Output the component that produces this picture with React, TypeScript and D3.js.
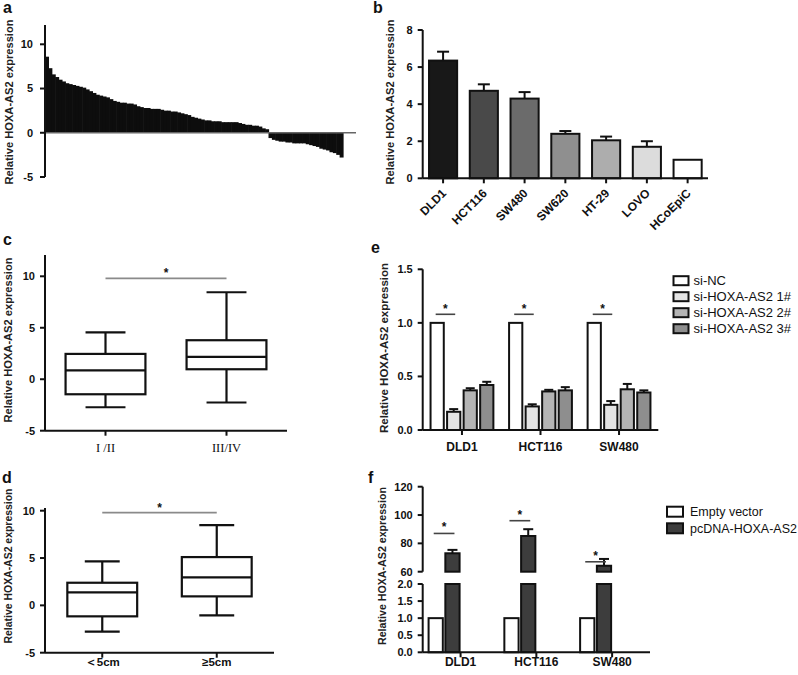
import React from 'react'
import { scaleBand, scaleLinear } from 'd3'

const FONT = '"Liberation Sans", Arial, Helvetica, sans-serif'
const SERIF = '"Liberation Serif", "Times New Roman", serif'
const INK = '#111'
const TITLE = 'Relative HOXA-AS2 expression'

// a: expression in each tumour, sorted
const waterfallValues = [
  8.6, 7.3, 6.6, 6.3, 6.0, 5.8, 5.6, 5.5, 5.4, 5.3, 5.2, 5.1, 4.9, 4.7, 4.5, 4.3,
  4.2, 4.1, 4.0, 3.8, 3.6, 3.5, 3.4, 3.4, 3.3, 3.3, 3.2, 3.0, 2.9, 2.8, 2.8, 2.7,
  2.7, 2.7, 2.6, 2.5, 2.5, 2.4, 2.4, 2.3, 2.2, 2.1, 2.0, 1.8, 1.7, 1.6, 1.5, 1.4,
  1.4, 1.3, 1.3, 1.3, 1.2, 1.2, 1.2, 1.2, 1.2, 1.1, 1.0, 0.9, 0.9, 0.8, 0.8, 0.7,
  0.5, 0.4, -0.6, -0.8, -0.9, -1.0, -1.0, -1.1, -1.1, -1.2, -1.2, -1.2, -1.2, -1.3,
  -1.4, -1.5, -1.6, -1.8, -1.9, -2.0, -2.2, -2.3, -2.5, -2.8,
]
const waterfallTicks = [10, 5, 0, -5]

// b: cell lines
const cellLines = ['DLD1', 'HCT116', 'SW480', 'SW620', 'HT-29', 'LOVO', 'HCoEpiC']
const cellLineMeans = [6.35, 4.72, 4.3, 2.4, 2.05, 1.7, 1.0]
const cellLineSem = [0.48, 0.35, 0.35, 0.15, 0.2, 0.3, 0]
const cellLineTicks = [0, 2, 4, 6, 8]
const cellLineFills = ['#181818', '#494949', '#6b6b6b', '#8f8f8f', '#adadad', '#dcdcdc', '#ffffff']

// c: TNM stage box plot
const stageGroups = ['I /II', 'III/IV']
const stageMin = [-2.72, -2.26]
const stageQ1 = [-1.46, 0.97]
const stageMedian = [0.87, 2.17]
const stageQ3 = [2.46, 3.79]
const stageMax = [4.56, 8.45]

// d: tumour size box plot
const sizeGroups = ['＜5cm', '≥5cm']
const sizeMin = [-2.78, -1.06]
const sizeQ1 = [-1.16, 0.95]
const sizeMedian = [1.37, 2.96]
const sizeQ3 = [2.39, 5.1]
const sizeMax = [4.65, 8.48]
const boxTicks = [10, 5, 0, -5]
const boxSigLevel = 9.8

// e: knockdown
const knockLines = ['DLD1', 'HCT116', 'SW480']
const knockSeries = ['si-NC', 'si-HOXA-AS2 1#', 'si-HOXA-AS2 2#', 'si-HOXA-AS2 3#']
const knockMeans = [
  [1, 0.17, 0.37, 0.42],
  [1, 0.22, 0.36, 0.37],
  [1, 0.235, 0.38, 0.35],
]
const knockSem = [
  [0, 0.025, 0.02, 0.03],
  [0, 0.02, 0.015, 0.03],
  [0, 0.035, 0.05, 0.02],
]
const knockTicks = [0, 0.5, 1.0, 1.5]
const knockSigLevel = 1.08
const knockFills = ['#ffffff', '#e4e4e4', '#b4b4b4', '#8e8e8e']

// f: overexpression (broken axis)
const overLines = ['DLD1', 'HCT116', 'SW480']
const overSeries = ['Empty vector', 'pcDNA-HOXA-AS2']
const overMeans = [
  [1, 73],
  [1, 85.2],
  [1, 64.2],
]
const overSem = [
  [0, 2.4],
  [0, 4.8],
  [0, 4.8],
]
const overLowTicks = [0, 0.5, 1.0, 1.5, 2.0]
const overHighTicks = [60, 80, 100, 120]
const overSigLevels = [87, 96, 67]
const overFills = ['#ffffff', '#3d3d3d']

type Lin = (v: number) => number

function YAxis({ y, x, ticks, top, bottom, fmt, gap = 10 }: { y: Lin; x: number; ticks: number[]; top: number; bottom: number; fmt?: (v: number) => string; gap?: number }) {
  return (
    <g>
      <line x1={x} x2={x} y1={top} y2={bottom} stroke={INK} strokeWidth={2} />
      {ticks.map((t) => (
        <g key={t}>
          <line x1={x - 5} x2={x} y1={y(t)} y2={y(t)} stroke={INK} strokeWidth={2} />
          <text x={x - gap} y={y(t)} dy="0.36em" textAnchor="end" fontSize={11} fontWeight="bold" fontFamily={FONT} fill={INK}>
            {fmt ? fmt(t) : String(t)}
          </text>
        </g>
      ))}
    </g>
  )
}

function YTitle({ cx, cy, len }: { cx: number; cy: number; len: number }) {
  return (
    <text
      transform={`translate(${cx},${cy}) rotate(-90)`}
      textAnchor="middle"
      dy="0.35em"
      fontSize={11}
      fontWeight="bold"
      fontFamily={FONT}
      fill="#222"
      textLength={len}
      lengthAdjust="spacingAndGlyphs"
    >
      {TITLE}
    </text>
  )
}

function PanelLabel({ x, y, t }: { x: number; y: number; t: string }) {
  return (
    <text x={x} y={y} fontSize={16} fontWeight="bold" fontFamily={FONT} fill={INK}>
      {t}
    </text>
  )
}

function Star({ x, y }: { x: number; y: number }) {
  return (
    <text x={x} y={y} textAnchor="middle" fontSize={12} fontWeight="bold" fontFamily={FONT} fill={INK}>
      *
    </text>
  )
}

function BoxPanel({
  groups, mins, q1s, medians, q3s, maxs, yRange, top, xRange, padIn, labelFont, labelY, labelSize, bold,
}: {
  groups: string[]; mins: number[]; q1s: number[]; medians: number[]; q3s: number[]; maxs: number[]
  yRange: [number, number]; top: number; xRange: [number, number]; padIn: number; labelFont: string; labelY: number; labelSize: number; bold: boolean
}) {
  const y = scaleLinear().domain([-5, 10]).range(yRange)
  const x = scaleBand<string>().domain(groups).range(xRange).paddingInner(padIn).paddingOuter(padIn / 2)
  const bw = x.bandwidth()
  const c0 = (x(groups[0]) ?? 0) + bw / 2
  const c1 = (x(groups[1]) ?? 0) + bw / 2
  return (
    <g>
      <YAxis y={y} x={xRange[0]} ticks={boxTicks} top={top} bottom={y(-5)} />
      <line x1={xRange[0]} x2={xRange[1]} y1={y(-5)} y2={y(-5)} stroke={INK} strokeWidth={2} />
      {groups.map((g, i) => {
        const x0 = x(g) ?? 0
        const cx = x0 + bw / 2
        return (
          <g key={g}>
            <line x1={cx} x2={cx} y1={y(-5)} y2={y(-5) + 5} stroke={INK} strokeWidth={2} />
            <line x1={cx} x2={cx} y1={y(maxs[i])} y2={y(q3s[i])} stroke={INK} strokeWidth={2.2} />
            <line x1={cx} x2={cx} y1={y(q1s[i])} y2={y(mins[i])} stroke={INK} strokeWidth={2.2} />
            <line x1={cx - bw / 4} x2={cx + bw / 4} y1={y(maxs[i])} y2={y(maxs[i])} stroke={INK} strokeWidth={2.2} />
            <line x1={cx - bw / 4} x2={cx + bw / 4} y1={y(mins[i])} y2={y(mins[i])} stroke={INK} strokeWidth={2.2} />
            <rect x={x0} y={y(q3s[i])} width={bw} height={y(q1s[i]) - y(q3s[i])} fill="#fff" stroke={INK} strokeWidth={2.2} />
            <line x1={x0} x2={x0 + bw} y1={y(medians[i])} y2={y(medians[i])} stroke={INK} strokeWidth={2.2} />
            <text x={cx} y={labelY} textAnchor="middle" fontSize={labelSize} fontWeight={bold ? 'bold' : 'normal'} fontFamily={labelFont} fill={INK}>
              {g}
            </text>
          </g>
        )
      })}
      <line x1={c0} x2={c1} y1={y(boxSigLevel)} y2={y(boxSigLevel)} stroke="#8a8a8a" strokeWidth={1.6} />
      <Star x={(c0 + c1) / 2} y={y(boxSigLevel) - 1} />
    </g>
  )
}

function PanelA() {
  const y = scaleLinear().domain([-5, 10]).range([177, 44.3])
  const x = scaleBand<number>().domain(waterfallValues.map((_, i) => i)).range([45, 343])
  return (
    <g>
      <PanelLabel x={3} y={13} t="a" />
      <YTitle cx={9} cy={102} len={165} />
      {waterfallValues.map((v, i) => (
        <rect key={i} x={x(i)} y={Math.min(y(v), y(0))} width={x.bandwidth() + 0.6} height={Math.abs(y(v) - y(0))} fill="#0d0d0d" />
      ))}
      <line x1={45} x2={356} y1={y(0)} y2={y(0)} stroke="#666" strokeWidth={1.6} />
      <YAxis y={y} x={45} ticks={waterfallTicks} top={25} bottom={y(-5)} gap={12} />
    </g>
  )
}

function PanelB() {
  const y = scaleLinear().domain([0, 8]).range([178.3, 30])
  const x = scaleBand<string>().domain(cellLines).range([422.7, 708]).paddingInner(0.31).paddingOuter(0.155)
  const bw = x.bandwidth()
  return (
    <g>
      <PanelLabel x={373} y={13} t="b" />
      <YTitle cx={390} cy={102} len={165} />
      {cellLines.map((c, i) => {
        const x0 = x(c) ?? 0
        const cx = x0 + bw / 2
        return (
          <g key={c}>
            {cellLineSem[i] > 0 && (
              <g>
                <line x1={cx} x2={cx} y1={y(cellLineMeans[i])} y2={y(cellLineMeans[i] + cellLineSem[i])} stroke={INK} strokeWidth={2} />
                <line x1={cx - 6} x2={cx + 6} y1={y(cellLineMeans[i] + cellLineSem[i])} y2={y(cellLineMeans[i] + cellLineSem[i])} stroke={INK} strokeWidth={2} />
              </g>
            )}
            <rect x={x0} y={y(cellLineMeans[i])} width={bw} height={y(0) - y(cellLineMeans[i])} fill={cellLineFills[i]} stroke={INK} strokeWidth={2} />
            <line x1={cx} x2={cx} y1={y(0)} y2={y(0) + 5} stroke={INK} strokeWidth={2} />
            <text transform={`translate(${cx + 4},${194}) rotate(-45)`} textAnchor="end" fontSize={12} fontWeight="bold" fontFamily={FONT} fill={INK}>
              {c}
            </text>
          </g>
        )
      })}
      <line x1={422.7} x2={708} y1={y(0)} y2={y(0)} stroke={INK} strokeWidth={2} />
      <YAxis y={y} x={422.7} ticks={cellLineTicks} top={y(8)} bottom={y(0)} />
    </g>
  )
}

function PanelE() {
  const y = scaleLinear().domain([0, 1.5]).range([430, 269.3])
  const x = scaleBand<string>().domain(knockLines).range([422.7, 658.3]).paddingInner(0.2).paddingOuter(0.1)
  const inner = scaleBand<string>().domain(knockSeries).range([0, x.bandwidth()]).paddingInner(0.2)
  const ib = inner.bandwidth()
  const fmt = (v: number) => v.toFixed(1)
  return (
    <g>
      <PanelLabel x={371} y={253} t="e" />
      <YTitle cx={384} cy={348} len={170} />
      {knockLines.map((g, gi) => {
        const gx = x(g) ?? 0
        const cx = gx + x.bandwidth() / 2
        const s0 = gx + (inner(knockSeries[0]) ?? 0) + ib / 2
        const s1 = gx + (inner(knockSeries[1]) ?? 0) + ib / 2
        return (
          <g key={g}>
            {knockSeries.map((s, si) => {
              const bx = gx + (inner(s) ?? 0)
              const m = knockMeans[gi][si]
              const e = knockSem[gi][si]
              return (
                <g key={s}>
                  {e > 0 && (
                    <g>
                      <line x1={bx + ib / 2} x2={bx + ib / 2} y1={y(m)} y2={y(m + e)} stroke={INK} strokeWidth={2} />
                      <line x1={bx + ib / 2 - 4.5} x2={bx + ib / 2 + 4.5} y1={y(m + e)} y2={y(m + e)} stroke={INK} strokeWidth={2} />
                    </g>
                  )}
                  <rect x={bx} y={y(m)} width={ib} height={y(0) - y(m)} fill={knockFills[si]} stroke={INK} strokeWidth={2} />
                </g>
              )
            })}
            <line x1={s0 - 1.5} x2={s1 + 1.5} y1={y(knockSigLevel)} y2={y(knockSigLevel)} stroke="#444" strokeWidth={1.6} />
            <Star x={(s0 + s1) / 2} y={y(knockSigLevel) - 1} />
            <line x1={cx} x2={cx} y1={y(0)} y2={y(0) + 5} stroke={INK} strokeWidth={2} />
            <text x={cx} y={451} textAnchor="middle" fontSize={12} fontWeight="bold" fontFamily={FONT} fill={INK}>
              {g}
            </text>
          </g>
        )
      })}
      <line x1={422.7} x2={658.3} y1={y(0)} y2={y(0)} stroke={INK} strokeWidth={2} />
      <YAxis y={y} x={422.7} ticks={knockTicks} top={y(1.5)} bottom={y(0)} fmt={fmt} />
      {knockSeries.map((s, i) => (
        <g key={s} transform={`translate(673.5,${280.7 + i * 16})`}>
          <rect x={0} y={-4.5} width={15} height={9} fill={knockFills[i]} stroke={INK} strokeWidth={2} />
          <text x={20} y={0} dy="0.35em" fontSize={13} fontFamily={FONT} fill={INK}>
            {s}
          </text>
        </g>
      ))}
    </g>
  )
}

function PanelF() {
  const yLow = scaleLinear().domain([0, 2]).range([652.3, 584])
  const yHigh = scaleLinear().domain([60, 120]).range([571.7, 486.7])
  const x = scaleBand<string>().domain(overLines).range([422.7, 650])
  const inner = scaleBand<string>().domain(overSeries).range([-32, -1]).paddingInner(0.15)
  const ib = inner.bandwidth()
  const lowFmt = (v: number) => v.toFixed(1)
  return (
    <g>
      <PanelLabel x={368} y={483} t="f" />
      <YTitle cx={382} cy={566} len={158} />
      {overLines.map((g, gi) => {
        const cx = (x(g) ?? 0) + x.bandwidth() / 2
        const c0 = cx + (inner(overSeries[0]) ?? 0) + ib / 2
        const c1 = cx + (inner(overSeries[1]) ?? 0) + ib / 2
        return (
          <g key={g}>
            {overSeries.map((s, si) => {
              const bx = cx + (inner(s) ?? 0)
              const m = overMeans[gi][si]
              const e = overSem[gi][si]
              if (m <= 2) {
                return <rect key={s} x={bx} y={yLow(m)} width={ib} height={yLow(0) - yLow(m)} fill={overFills[si]} stroke={INK} strokeWidth={2} />
              }
              return (
                <g key={s}>
                  <line x1={bx + ib / 2} x2={bx + ib / 2} y1={yHigh(m)} y2={yHigh(m + e)} stroke={INK} strokeWidth={2} />
                  <line x1={bx + ib / 2 - 5} x2={bx + ib / 2 + 5} y1={yHigh(m + e)} y2={yHigh(m + e)} stroke={INK} strokeWidth={2} />
                  <rect x={bx} y={yHigh(m)} width={ib} height={yHigh(60) - yHigh(m)} fill={overFills[si]} stroke={INK} strokeWidth={2} />
                  <rect x={bx} y={yLow(2)} width={ib} height={yLow(0) - yLow(2)} fill={overFills[si]} stroke={INK} strokeWidth={2} />
                </g>
              )
            })}
            <line x1={c0 - 2} x2={c1 + 2} y1={yHigh(overSigLevels[gi])} y2={yHigh(overSigLevels[gi])} stroke="#444" strokeWidth={1.6} />
            <Star x={(c0 + c1) / 2} y={yHigh(overSigLevels[gi]) - 2} />
            <line x1={cx} x2={cx} y1={yLow(0)} y2={yLow(0) + 5} stroke={INK} strokeWidth={2} />
            <text x={cx} y={666} textAnchor="middle" fontSize={12} fontWeight="bold" fontFamily={FONT} fill={INK}>
              {g}
            </text>
          </g>
        )
      })}
      <line x1={422.7} x2={650} y1={yLow(0)} y2={yLow(0)} stroke={INK} strokeWidth={2} />
      <YAxis y={yHigh} x={422.7} ticks={overHighTicks} top={yHigh(120)} bottom={yHigh(60)} />
      <YAxis y={yLow} x={422.7} ticks={overLowTicks} top={yLow(2)} bottom={yLow(0)} fmt={lowFmt} />
      {overSeries.map((s, i) => (
        <g key={s} transform={`translate(667,${511.7 + i * 16.6})`}>
          <rect x={0} y={-5} width={16} height={10} fill={overFills[i]} stroke={INK} strokeWidth={2} />
          <text x={23} y={0} dy="0.35em" fontSize={12.5} fontFamily={FONT} fill={INK}>
            {s}
          </text>
        </g>
      ))}
    </g>
  )
}

export default function App() {
  return (
    <svg width={798} height={675} style={{ position: 'absolute', left: 0, top: 0, background: '#fff' }}>
      <rect width={798} height={675} fill="#fff" />
      <PanelA />
      <PanelB />
      <PanelLabel x={3} y={245} t="c" />
      <YTitle cx={8} cy={340} len={165} />
      <BoxPanel
        groups={stageGroups}
        mins={stageMin}
        q1s={stageQ1}
        medians={stageMedian}
        q3s={stageQ3}
        maxs={stageMax}
        yRange={[430.7, 276.3]}
        top={255}
        xRange={[45, 287]}
        padIn={0.34}
        labelFont={SERIF}
        labelY={452}
        labelSize={12.5}
        bold={false}
      />
      <PanelLabel x={2} y={483} t="d" />
      <YTitle cx={8} cy={566} len={155} />
      <BoxPanel
        groups={sizeGroups}
        mins={sizeMin}
        q1s={sizeQ1}
        medians={sizeMedian}
        q3s={sizeQ3}
        maxs={sizeMax}
        yRange={[652.7, 510.7]}
        top={508}
        xRange={[45, 274]}
        padIn={0.39}
        labelFont={FONT}
        labelY={666}
        labelSize={11.5}
        bold={true}
      />
      <PanelE />
      <PanelF />
    </svg>
  )
}
